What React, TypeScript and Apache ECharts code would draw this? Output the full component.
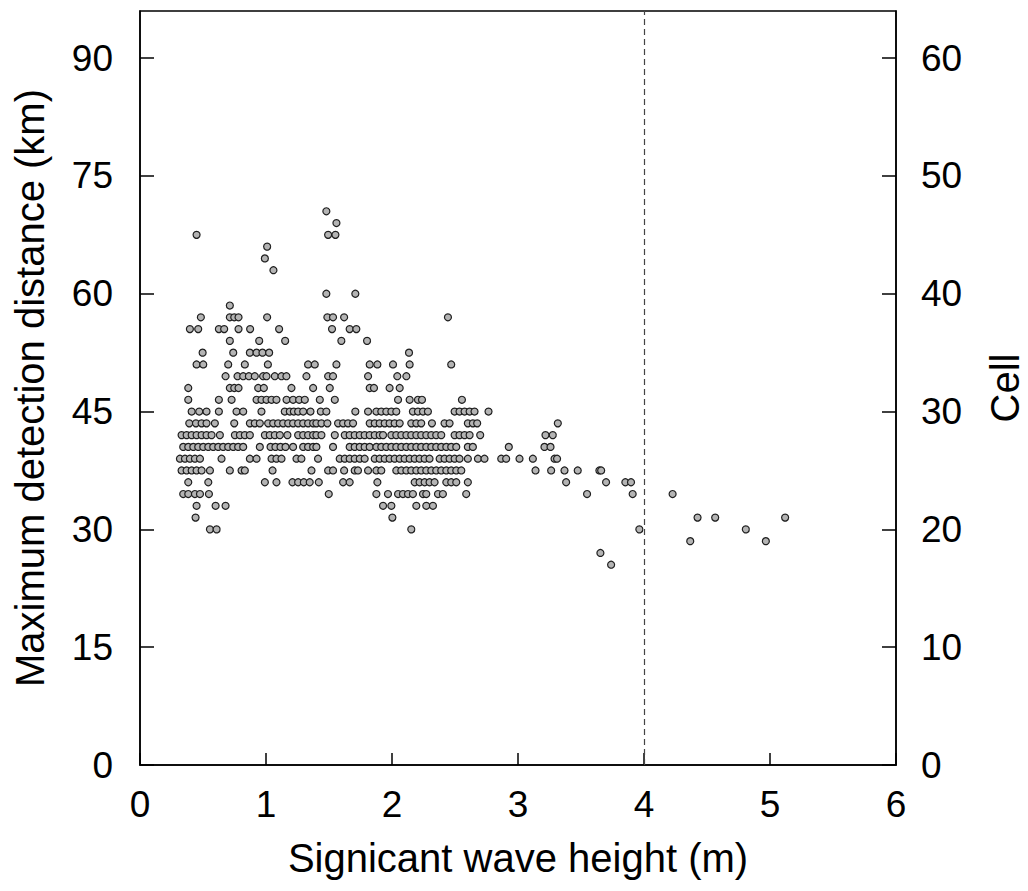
import React, { useEffect, useRef } from "react";
import * as echarts from "echarts";

// Significant wave height (m) values for each detection-distance level (km)
const d70_5 = [1.479];
const d69 = [1.559];
const d67_5 = [0.449, 1.493, 1.551];
const d66 = [1.009];
const d64_5 = [0.991];
const d63 = [1.059];
const d60 = [1.479, 1.709];
const d58_5 = [0.713];
const d57 = [0.483, 0.713, 0.748, 0.782, 1.009, 1.487, 1.532, 1.62, 2.444];
const d55_5 = [0.396, 0.462, 0.626, 0.668, 0.782, 0.874, 1.104, 1.524, 1.664, 1.717];
const d54 = [0.713, 0.946, 1.152, 1.598, 1.802];
const d52_5 = [0.497, 0.74, 0.872, 0.925, 0.972, 1.025, 2.135];
const d51 = [0.449, 0.502, 0.7, 0.832, 1.015, 1.334, 1.387, 1.559, 1.823, 1.884, 2.008, 2.14, 2.47];
const d49_5 = [0.679, 0.774, 0.819, 0.864, 0.911, 0.977, 1.004, 1.07, 1.123, 1.162, 1.321, 1.493, 1.532, 1.81, 2.042, 2.114];
const d48 = [0.383, 0.713, 0.748, 0.782, 0.938, 0.983, 1.202, 1.374, 1.506, 1.823, 1.857, 1.981, 2.061];
const d46_5 = [0.383, 0.626, 0.727, 0.925, 0.964, 1.004, 1.044, 1.083, 1.163, 1.215, 1.263, 1.308, 1.427, 1.546, 2.048, 2.14, 2.206, 2.238, 2.555];
const d45 = [0.41, 0.47, 0.528, 0.626, 0.766, 0.819, 0.964, 1.149, 1.189, 1.221, 1.255, 1.295, 1.353, 1.435, 1.479, 1.709, 1.81, 1.876, 1.915, 1.955, 1.995, 2.034, 2.166, 2.206, 2.246, 2.285, 2.497, 2.536, 2.576, 2.616, 2.655, 2.766];
const d43_5 = [0.391, 0.444, 0.489, 0.528, 0.594, 0.748, 0.872, 0.911, 0.951, 1.017, 1.057, 1.096, 1.136, 1.176, 1.215, 1.255, 1.295, 1.334, 1.374, 1.4, 1.44, 1.487, 1.572, 1.612, 1.651, 1.691, 1.823, 1.863, 1.902, 1.942, 1.981, 2.021, 2.061, 2.153, 2.193, 2.232, 2.317, 2.417, 2.457, 2.602, 2.642, 2.676, 3.316];
const d42 = [0.33, 0.37, 0.41, 0.449, 0.489, 0.528, 0.568, 0.634, 0.753, 0.793, 0.832, 0.872, 0.991, 1.03, 1.07, 1.11, 1.17, 1.255, 1.295, 1.334, 1.374, 1.4, 1.44, 1.546, 1.625, 1.664, 1.704, 1.744, 1.783, 1.823, 1.863, 1.902, 1.929, 1.995, 2.034, 2.074, 2.114, 2.153, 2.193, 2.232, 2.272, 2.312, 2.351, 2.391, 2.497, 2.536, 2.576, 2.616, 2.7, 3.218, 3.276];
const d40_5 = [0.343, 0.383, 0.423, 0.462, 0.502, 0.542, 0.581, 0.621, 0.66, 0.7, 0.74, 0.779, 0.819, 0.951, 1.036, 1.075, 1.115, 1.155, 1.215, 1.295, 1.334, 1.374, 1.4, 1.532, 1.664, 1.704, 1.744, 1.783, 1.823, 1.876, 1.915, 1.955, 1.995, 2.034, 2.074, 2.114, 2.153, 2.193, 2.232, 2.272, 2.312, 2.351, 2.391, 2.431, 2.47, 2.51, 2.602, 2.642, 2.927, 3.21, 3.258];
const d39 = [0.317, 0.357, 0.396, 0.436, 0.476, 0.647, 0.872, 0.925, 1.044, 1.083, 1.123, 1.242, 1.281, 1.413, 1.585, 1.625, 1.664, 1.704, 1.744, 1.783, 1.863, 1.902, 1.942, 1.981, 2.021, 2.061, 2.1, 2.14, 2.18, 2.219, 2.259, 2.298, 2.378, 2.417, 2.457, 2.497, 2.536, 2.602, 2.682, 2.734, 2.867, 2.906, 3.012, 3.118, 3.29, 3.31];
const d37_5 = [0.33, 0.37, 0.41, 0.449, 0.489, 0.555, 0.713, 0.806, 0.832, 1.052, 1.361, 1.493, 1.532, 1.62, 1.704, 1.73, 1.81, 1.876, 1.915, 2.034, 2.074, 2.114, 2.153, 2.193, 2.232, 2.272, 2.312, 2.351, 2.391, 2.431, 2.47, 2.51, 2.55, 3.139, 3.263, 3.369, 3.474, 3.646, 3.66];
const d36 = [0.383, 0.542, 0.991, 1.083, 1.21, 1.255, 1.3, 1.347, 1.419, 1.612, 1.664, 1.884, 2.18, 2.219, 2.259, 2.298, 2.338, 2.431, 2.47, 2.51, 2.602, 3.382, 3.699, 3.852, 3.897];
const d34_5 = [0.343, 0.383, 0.436, 0.476, 0.547, 1.498, 1.876, 1.968, 2.048, 2.087, 2.127, 2.166, 2.246, 2.272, 2.365, 2.404, 2.589, 3.548, 3.91, 4.227];
const d33 = [0.449, 0.6, 0.679, 1.929, 1.995, 2.193, 2.272, 2.325];
const d31_5 = [0.441, 2.003, 4.425, 4.565, 5.12];
const d30 = [0.555, 0.608, 2.153, 3.963, 4.808];
const d28_5 = [4.367, 4.967];
const d27 = [3.654];
const d25_5 = [3.739];

const levels: [number, number[]][] = [
  [70.5, d70_5], [69, d69], [67.5, d67_5], [66, d66], [64.5, d64_5], [63, d63],
  [60, d60], [58.5, d58_5], [57, d57], [55.5, d55_5], [54, d54], [52.5, d52_5],
  [51, d51], [49.5, d49_5], [48, d48], [46.5, d46_5], [45, d45], [43.5, d43_5],
  [42, d42], [40.5, d40_5], [39, d39], [37.5, d37_5], [36, d36], [34.5, d34_5],
  [33, d33], [31.5, d31_5], [30, d30], [28.5, d28_5], [27, d27], [25.5, d25_5],
];

const thresholdHeight = 4;
const xTitle = "Signicant wave height (m)";
const yTitle = "Maximum detection distance (km)";
const y2Title = "Cell";

const FONT = "'Liberation Sans', Arial, Helvetica, sans-serif";

export default function App() {
  const ref = useRef<HTMLDivElement>(null);
  useEffect(() => {
    if (!ref.current) return;
    const chart = echarts.init(ref.current, undefined, { renderer: "svg" });
    const data: number[][] = [];
    levels.forEach(([d, hs]) => hs.forEach((h) => data.push([h, d])));
    const tickText = { color: "#000", fontSize: 37, fontFamily: FONT };
    const titleText = { color: "#000", fontSize: 40, fontFamily: FONT };
    const axisLine = { show: true, lineStyle: { color: "#000", width: 1.5 } };
    chart.setOption({
      animation: false,
      backgroundColor: "#fff",
      grid: {
        left: 140, right: 132, top: 11, bottom: 126,
        containLabel: false,
        outerBoundsMode: "none",
        show: true, borderColor: "#000", borderWidth: 1.5, backgroundColor: "transparent",
      },
      xAxis: {
        type: "value", min: 0, max: 6, interval: 1,
        name: xTitle, nameLocation: "middle", nameGap: 73,
        nameTextStyle: { ...titleText },
        axisLine, splitLine: { show: false },
        axisTick: { inside: true, length: 12, lineStyle: { color: "#000", width: 1.5 } },
        axisLabel: { ...tickText, margin: 21 },
      },
      yAxis: [
        {
          type: "value", min: 0, max: 96, interval: 15,
          name: yTitle, nameLocation: "middle", nameGap: 90,
          nameTextStyle: { ...titleText },
          axisLine, splitLine: { show: false },
          axisTick: { inside: true, length: 14, lineStyle: { color: "#000", width: 1.5 } },
          axisLabel: { ...tickText, margin: 27, showMaxLabel: false },
        },
        {
          type: "value", min: 0, max: 64, interval: 10, position: "right",
          name: y2Title, nameLocation: "middle", nameGap: 89, nameRotate: 90,
          nameTextStyle: { ...titleText, lineHeight: 40 },
          axisLine, splitLine: { show: false },
          axisTick: { inside: true, length: 14, lineStyle: { color: "#000", width: 1.5 } },
          axisLabel: { ...tickText, margin: 25, showMaxLabel: false },
        },
      ],
      series: [
        {
          type: "scatter",
          data,
          symbol: "circle",
          symbolSize: 7,
          itemStyle: { color: "#b4b4b4", borderColor: "#1e1e1e", borderWidth: 1.2, opacity: 1 },
          silent: true,
          markLine: {
            silent: true,
            symbol: ["none", "none"],
            label: { show: false },
            lineStyle: { color: "#444", width: 1.2, type: [6, 4] },
            data: [{ xAxis: thresholdHeight }],
          },
        },
      ],
    });
    return () => chart.dispose();
  }, []);
  return (
    <div
      ref={ref}
      style={{ position: "absolute", left: 0, top: 0, width: 1028, height: 891 }}
    />
  );
}
